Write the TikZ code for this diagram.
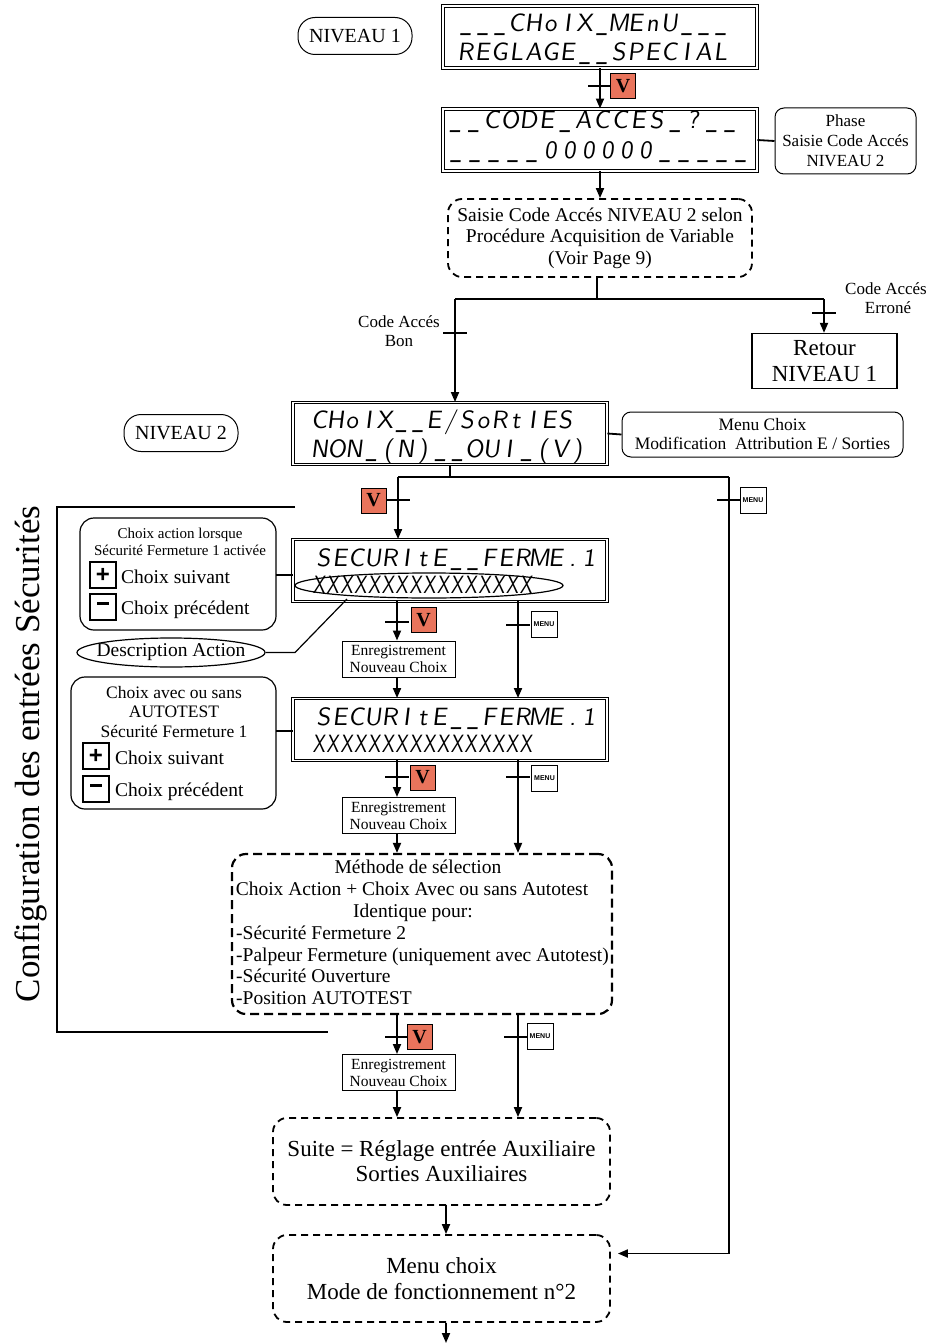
\documentclass[tikz,border=0pt]{standalone}
\usepackage{fontspec}
\usepackage{graphicx}
\setmainfont{Liberation Serif}
\newfontfamily\lcdf[FakeSlant=0.12]{lmsans10-regular.otf}
\newfontfamily\lcdn[FakeSlant=0.1,FakeStretch=0.74]{lmsans10-regular.otf}
\newfontfamily\keyfont{Liberation Sans}
\newcommand\lcdl[2][17pt]{\def\lcdwd{#1}\lcdloop#2\relax}
\def\lcdloop#1{\ifx\relax#1\else\lcdchar{#1}\expandafter\lcdloop\fi}
\newcommand\lcdchar[1]{\ifx\_#1\makebox[\lcdwd][c]{\scalebox{0.62}[1]{\_}}\else\makebox[\lcdwd][c]{#1}\fi}
\usetikzlibrary{arrows.meta,shapes.geometric,calc}
\definecolor{vred}{RGB}{233,116,92}
\begin{document}
\begin{tikzpicture}[x=1pt,y=-1pt,
  lcd/.style={draw, double, double distance=1.6pt, line width=0.9pt, inner sep=0, minimum width=314pt, minimum height=62pt},
  lcdtxt/.style={anchor=base west, inner sep=0, font=\lcdf\fontsize{25}{25}\selectfont},
  lcdx/.style={anchor=base west, inner sep=0, font=\lcdn\fontsize{25}{25}\selectfont},
  pill/.style={draw, rounded corners=17pt, line width=1pt, minimum width=114pt, minimum height=37pt, inner sep=0, font=\fontsize{20}{22}\selectfont},
  rbox/.style={draw, rounded corners=9pt, line width=1pt, align=center, inner sep=0},
  dbox/.style={draw, dash pattern=on 7pt off 5pt, line width=1.8pt, rounded corners=14pt, align=center, inner sep=0},
  vkey/.style={draw, fill=vred, minimum size=25pt, inner sep=0, font=\bfseries\fontsize{20}{20}\selectfont, line width=1pt},
  mkey/.style={draw, fill=white, minimum size=26pt, inner sep=0, font=\keyfont\bfseries\fontsize{7}{7}\selectfont, line width=1pt},
  pm/.style={draw, line width=1.2pt, minimum size=26pt, inner sep=0, font=\keyfont\bfseries\fontsize{24}{24}\selectfont},
  conn/.style={line width=1.8pt},
  thin/.style={line width=1.2pt},
  arr/.style={line width=1.8pt, -{Triangle[length=10pt,width=8pt]}},
  bar/.style={line width=1.4pt},
  enr/.style={draw, line width=1pt, minimum width=113pt, minimum height=36pt, align=center, inner sep=0, font=\fontsize{15.5}{17}\selectfont},
  lbl/.style={inner sep=0, align=center},
  txt/.style={inner sep=0, anchor=base}
]
\useasboundingbox (0,0) rectangle (944,1343);

% ---------------- NIVEAU 1 ----------------
\node[pill] (niv1) at (355,36) {NIVEAU 1};
\node[lcd] (lcd1) at (600,37) {};
\node[lcdtxt] (lcd1a) at (457,32) {\lcdl{\_\_\_CHoIX\_MEnU\_\_\_}};
\node[lcdtxt] (lcd1b) at (457,61) {\lcdl{REGLAGE\_\_SPECIAL}};

\node[lcd] (lcd2) at (600,140) {};
\node[lcdtxt] (lcd2a) at (446,129) {\lcdl[18.3pt]{\_\_CODE\_ACCES\_?\_\_}};
\node[lcdtxt] (lcd2b) at (446,159) {\lcdl[19pt]{\_\_\_\_\_000000\_\_\_\_\_}};
\node[rbox, minimum width=141pt, minimum height=66pt, font=\fontsize{17}{20}\selectfont] (phase) at (845.5,141) {Phase\\Saisie Code Accés\\NIVEAU 2};
\draw[conn] (lcd2.east) -- (phase.west);

\coordinate (t1) at (600,86);
\draw[arr] (lcd1.south) -- (lcd2.north);
\draw[bar] ([xshift=-12pt]t1) -- ([xshift=12pt]t1);
\node[vkey] (v1) at (623,86) {V};

\node[dbox, minimum width=304pt, minimum height=78pt, font=\fontsize{19.5}{21.5}\selectfont] (saisie) at (600,238) {Saisie Code Accés NIVEAU 2 selon\\Procédure Acquisition de Variable\\(Voir Page 9)};
\draw[arr] (lcd2.south) -- (saisie.north);

% branch
\node[draw, line width=1.3pt, minimum width=145pt, minimum height=55pt, align=center, inner sep=0, font=\fontsize{23}{26}\selectfont] (retour) at (824.5,361) {Retour\\NIVEAU 1};
\node[lcd] (lcd3) at (450,433.5) {};
\coordinate (bj) at (597,299);
\coordinate (bl) at (455,299);
\coordinate (br) at (824,299);
\draw[conn] (saisie.south -| bj) -- (bj);
\draw[conn] (bl) -- (br);
\draw[arr] (bl) -- (bl |- lcd3.north);
\draw[arr] (br) -- (br |- retour.north);
\coordinate (t2) at (455,333);
\coordinate (t3) at (824,313);
\draw[bar] ([xshift=-12pt]t2) -- ([xshift=12pt]t2);
\draw[bar] ([xshift=-12pt]t3) -- ([xshift=12pt]t3);
\node[lbl, font=\fontsize{17}{19}\selectfont] (cbon) at (399,331) {Code Accés\\Bon};
\node[lbl, font=\fontsize{17}{19}\selectfont] (cerr) at (886,298) {Code Accés\\\hspace*{4pt}Erroné};

% ---------------- NIVEAU 2 ----------------
\node[pill] (niv2) at (181,433) {NIVEAU 2};
\node[lcdtxt] (lcd3a) at (311,428) {\lcdl[16.4pt]{CHoIX\_\_E/SoRtIES}};
\node[lcdtxt] (lcd3b) at (311,457) {\lcdl[17.2pt]{NON\_(N)\_\_OUI\_(V)}};
\node[rbox, minimum width=281pt, minimum height=45pt, font=\fontsize{17.5}{19}\selectfont] (mchoix) at (762.5,434.5) {Menu Choix\\Modification\ \ Attribution E / Sorties};
\draw[conn] (lcd3.east) -- (mchoix.west);

% menu choix final (needed for long arrow)
\node[dbox, minimum width=337pt, minimum height=87pt, font=\fontsize{23}{26}\selectfont] (mc) at (441.5,1278.5) {Menu choix\\Mode de fonctionnement n°2};

\node[lcd] (lcd4) at (450,570.5) {};
\coordinate (j3) at (450,477);
\coordinate (jl) at (398,477);
\coordinate (jr) at (729,477);
\draw[conn] (lcd3.south) -- (j3);
\draw[conn] (jl) -- (jr);
\draw[arr] (jl) -- (jl |- lcd4.north);
\draw[arr, shorten >=7pt] (jr) |- ([yshift=25pt]mc.east);
\coordinate (t4) at (398,500);
\coordinate (t5) at (729,500);
\draw[bar] ([xshift=-12pt]t4) -- ([xshift=12pt]t4);
\draw[bar] ([xshift=-12pt]t5) -- ([xshift=12pt]t5);
\node[vkey] (v2) at (373.5,500.5) {V};
\node[mkey] (m1) at (753,500) {MENU};

% bracket and vertical label
\coordinate (k1) at (295,507);
\coordinate (k2) at (57,507);
\coordinate (k3) at (57,1032);
\coordinate (k4) at (328,1032);
\draw[line width=1.6pt] (k1) -- (k2) -- (k3) -- (k4);
\node[rotate=90, inner sep=0, font=\fontsize{35}{35}\selectfont] (vlab) at (31,754) {Configuration des entrées Sécurités};

% box A
\node[draw, rounded corners=14pt, line width=1.2pt, minimum width=196pt, minimum height=112pt, inner sep=0] (boxa) at (178,574) {};
\node[txt, font=\fontsize{15}{17}\selectfont] (ba1) at (180,538) {Choix action lorsque};
\node[txt, font=\fontsize{15}{17}\selectfont] (ba2) at (180,555) {Sécurité Fermeture 1 activée};
\node[pm] (pa) at (103,575) {+};
\node[pm] (ma) at (103,607) {\rule[6.5pt]{12pt}{3pt}};
\node[anchor=base west, inner sep=0, font=\fontsize{19.5}{20}\selectfont] (ba3) at (121,583) {Choix suivant};
\node[anchor=base west, inner sep=0, font=\fontsize{19.5}{20}\selectfont] (ba4) at (121,614) {Choix précédent};
\coordinate (ca) at (276,575);
\draw[conn] (ca) -- (ca -| lcd4.west);

\node[lcdtxt] (lcd4a) at (315,566) {\lcdl[16.6pt]{SECURItE\_\_FERME.1}};
\node[lcdx] (lcd4b) at (312,593) {\lcdl[13.8pt]{XXXXXXXXXXXXXXXX}};
\node[draw, ellipse, line width=1.2pt, minimum width=268pt, minimum height=25pt, inner sep=0] (xell) at (429,585.5) {};
\node[draw, ellipse, line width=1.2pt, minimum width=188pt, minimum height=29pt, inner sep=0] (desc) at (171,652.5) {};
\node[inner sep=0, font=\fontsize{19.5}{20}\selectfont] (desct) at (desc.center) {Description Action};
\coordinate (dk) at (295,652.5);
\coordinate (de) at (347,599);
\draw[thin] (de) -- (dk) -- (desc.east);

% stage 1 outputs
\node[enr] (enr1) at (398.5,659) {Enregistrement\\Nouveau Choix};
\node[lcd] (lcd5) at (450,729.5) {};
\coordinate (s4l) at (397,601);
\coordinate (s4r) at (518,601);
\draw[arr] (s4l) -- (s4l |- enr1.north);
\draw[arr] (s4r) -- (s4r |- lcd5.north);
\coordinate (t6) at (397,622);
\coordinate (t7) at (518,625);
\draw[bar] ([xshift=-12pt]t6) -- ([xshift=12pt]t6);
\draw[bar] ([xshift=-12pt]t7) -- ([xshift=12pt]t7);
\node[vkey] (v3) at (423.5,620) {V};
\node[mkey] (m2) at (544,624.5) {MENU};
\draw[arr] (enr1.south -| s4l) -- (s4l |- lcd5.north);

% box B
\node[draw, rounded corners=14pt, line width=1.2pt, minimum width=205pt, minimum height=132pt, inner sep=0] (boxb) at (173.5,743) {};
\node[txt, font=\fontsize{17.5}{19}\selectfont] (bb1) at (174,698) {Choix avec ou sans};
\node[txt, font=\fontsize{17.5}{19}\selectfont] (bb2) at (174,717) {AUTOTEST};
\node[txt, font=\fontsize{17.5}{19}\selectfont] (bb3) at (174,737) {Sécurité Fermeture 1};
\node[pm] (pb) at (96,756) {+};
\node[pm] (mb) at (96,789) {\rule[6.5pt]{12pt}{3pt}};
\node[anchor=base west, inner sep=0, font=\fontsize{19.5}{20}\selectfont] (bb4) at (115,764) {Choix suivant};
\node[anchor=base west, inner sep=0, font=\fontsize{19.5}{20}\selectfont] (bb5) at (115,796) {Choix précédent};
\coordinate (cb) at (276,731);
\draw[conn] (cb) -- (cb -| lcd5.west);

\node[lcdtxt] (lcd5a) at (315,725) {\lcdl[16.6pt]{SECURItE\_\_FERME.1}};
\node[lcdx] (lcd5b) at (312,752) {\lcdl[13.8pt]{XXXXXXXXXXXXXXXX}};

% stage 2 outputs
\node[enr] (enr2) at (398.5,815.5) {Enregistrement\\Nouveau Choix};
\node[dbox, dash pattern=on 9pt off 5pt, line width=2.2pt, minimum width=380pt, minimum height=160pt] (meth) at (422,934) {};
\coordinate (s5l) at (397,760);
\coordinate (s5r) at (518,760);
\draw[arr] (s5l) -- (s5l |- enr2.north);
\draw[arr] (s5r) -- (s5r |- meth.north);
\coordinate (t8) at (397,777);
\coordinate (t9) at (518,777);
\draw[bar] ([xshift=-12pt]t8) -- ([xshift=12pt]t8);
\draw[bar] ([xshift=-12pt]t9) -- ([xshift=12pt]t9);
\node[vkey] (v4) at (422.5,777.5) {V};
\node[mkey] (m3) at (544.5,778) {MENU};
\draw[arr] (enr2.south -| s5l) -- (s5l |- meth.north);

\node[txt, font=\fontsize{19.5}{20}\selectfont] (mt1) at (418,873) {Méthode de sélection};
\node[txt, font=\fontsize{19.5}{20}\selectfont] (mt2) at (412,895) {Choix Action + Choix Avec ou sans Autotest};
\node[txt, font=\fontsize{19.5}{20}\selectfont] (mt3) at (413,917) {Identique pour:};
\node[txt, anchor=base west, font=\fontsize{19.5}{20}\selectfont] (mt4) at (236,939) {-Sécurité Fermeture 2};
\node[txt, anchor=base west, font=\fontsize{19.5}{20}\selectfont] (mt5) at (236,961) {-Palpeur Fermeture (uniquement avec Autotest)};
\node[txt, anchor=base west, font=\fontsize{19.5}{20}\selectfont] (mt6) at (236,982) {-Sécurité Ouverture};
\node[txt, anchor=base west, font=\fontsize{19.5}{20}\selectfont] (mt7) at (236,1004) {-Position AUTOTEST};

% stage 3 outputs
\node[enr] (enr3) at (398.5,1072.5) {Enregistrement\\Nouveau Choix};
\node[dbox, minimum width=337pt, minimum height=87pt, font=\fontsize{23}{25}\selectfont] (suite) at (441.5,1161.5) {Suite = Réglage entrée Auxiliaire\\Sorties Auxiliaires};
\coordinate (s6l) at (397,1014);
\coordinate (s6r) at (518,1014);
\draw[arr] (s6l) -- (s6l |- enr3.north);
\draw[arr] (s6r) -- (s6r |- suite.north);
\coordinate (t10) at (397,1037);
\coordinate (t11) at (516,1037);
\draw[bar] ([xshift=-12pt]t10) -- ([xshift=12pt]t10);
\draw[bar] ([xshift=-12pt]t11) -- ([xshift=12pt]t11);
\node[vkey] (v5) at (419.5,1037) {V};
\node[mkey] (m4) at (540,1036.5) {MENU};
\draw[arr] (enr3.south -| s6l) -- (s6l |- suite.north);

\coordinate (ms) at (446,1205);
\draw[arr] (ms) -- (ms |- mc.north);
\coordinate (endc) at (446,1343);
\draw[arr] (mc.south -| ms) -- (endc);
\end{tikzpicture}
\end{document}
